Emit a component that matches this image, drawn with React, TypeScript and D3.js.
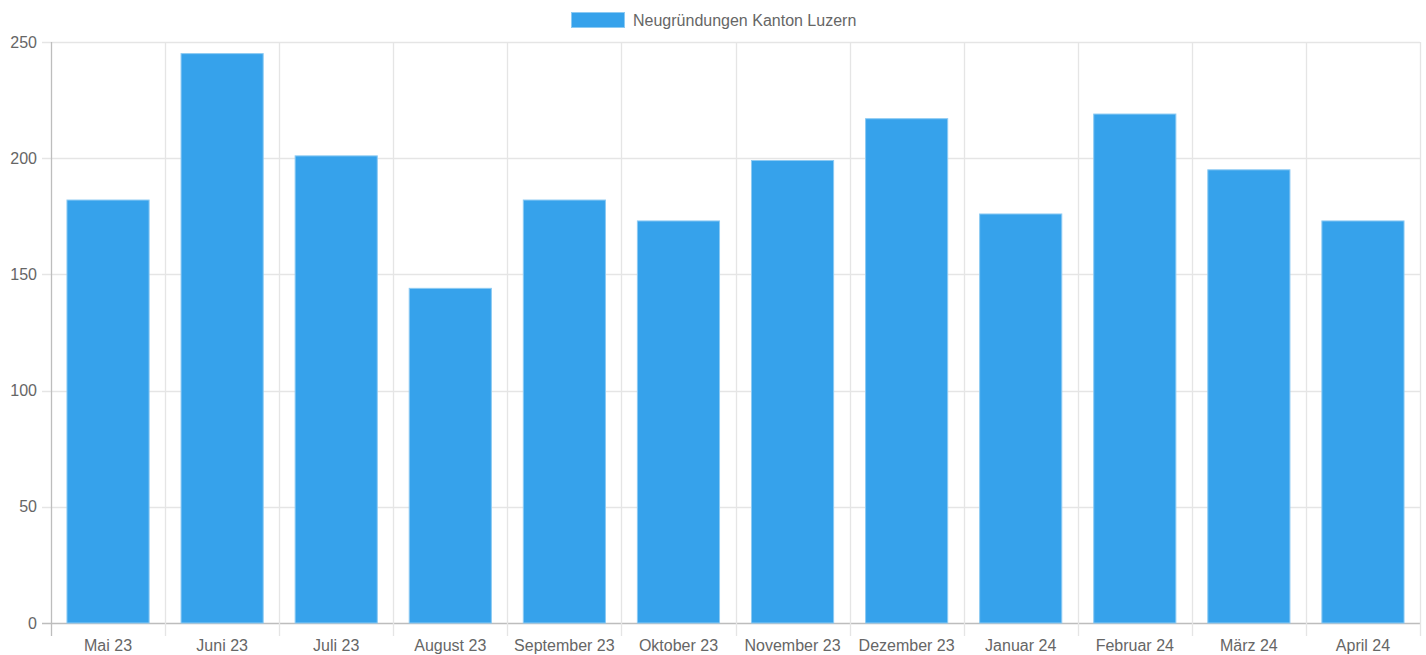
import React, { useEffect, useRef } from 'react';
import * as d3 from 'd3';

const months = ['Mai 23', 'Juni 23', 'Juli 23', 'August 23', 'September 23', 'Oktober 23',
  'November 23', 'Dezember 23', 'Januar 24', 'Februar 24', 'März 24', 'April 24'];
const counts = [182, 245, 201, 144, 182, 173, 199, 217, 176, 219, 195, 173];
const yTicks = [0, 50, 100, 150, 200, 250];
const seriesName = 'Neugründungen Kanton Luzern';

const W = 1426;
const H = 655;
const FONT = '"Helvetica Neue", Helvetica, Arial, "Liberation Sans", sans-serif';

export default function App() {
  const ref = useRef<SVGSVGElement>(null);

  useEffect(() => {
    const svg = d3.select(ref.current);
    svg.selectAll('*').remove();

    const left = 51, right = 1420, top = 42, bottom = 623;

    const x = d3.scaleBand().domain(months).range([left, right]);
    const y = d3.scaleLinear().domain([0, 250]).range([bottom, top]);

    // horizontal grid + y ticks
    const gy = svg.append('g');
    gy.selectAll('line.h')
      .data(yTicks)
      .enter()
      .append('line')
      .attr('x1', left - 9)
      .attr('x2', right)
      .attr('y1', d => Math.round(y(d)) + 0.5)
      .attr('y2', d => Math.round(y(d)) + 0.5)
      .attr('stroke', d => (d === 0 ? '#bdbdbd' : '#e5e5e5'))
      .attr('stroke-width', 1.3);
    gy.selectAll('text')
      .data(yTicks)
      .enter()
      .append('text')
      .attr('x', left - 14)
      .attr('y', d => y(d))
      .attr('dy', '0.35em')
      .attr('text-anchor', 'end')
      .attr('font-family', FONT)
      .attr('font-size', 16)
      .attr('fill', '#666')
      .text(d => d);

    // vertical grid at category edges
    const edges = months.map(m => x(m) as number).concat([right]);
    svg.append('g')
      .selectAll('line')
      .data(edges)
      .enter()
      .append('line')
      .attr('x1', d => Math.round(d) + 0.5)
      .attr('x2', d => Math.round(d) + 0.5)
      .attr('y1', top)
      .attr('y2', bottom + 13)
      .attr('stroke', (d, i) => (i === 0 ? '#bdbdbd' : '#e5e5e5'))
      .attr('stroke-width', 1.3);

    // bars
    const bw = x.bandwidth() * 0.72;
    svg.append('g')
      .selectAll('rect')
      .data(counts)
      .enter()
      .append('rect')
      .attr('x', (d, i) => (x(months[i]) as number) + (x.bandwidth() - bw) / 2)
      .attr('y', d => y(d))
      .attr('width', bw)
      .attr('height', d => bottom - y(d))
      .attr('fill', '#36a2eb')
      .attr('stroke', '#8ccaf3')
      .attr('stroke-width', 1);

    // x labels
    svg.append('g')
      .selectAll('text')
      .data(months)
      .enter()
      .append('text')
      .attr('x', d => (x(d) as number) + x.bandwidth() / 2)
      .attr('y', 651)
      .attr('text-anchor', 'middle')
      .attr('font-family', FONT)
      .attr('font-size', 16)
      .attr('fill', '#666')
      .text(d => d);

    // legend
    const lg = svg.append('g');
    lg.append('rect')
      .attr('x', 571.5)
      .attr('y', 12.5)
      .attr('width', 53)
      .attr('height', 15)
      .attr('fill', '#36a2eb')
      .attr('stroke', '#8ccaf3')
      .attr('stroke-width', 1);
    lg.append('text')
      .attr('x', 633)
      .attr('y', 20)
      .attr('dy', '0.35em')
      .attr('font-family', FONT)
      .attr('font-size', 16)
      .attr('fill', '#666')
      .text(seriesName);
  }, []);

  return (
    <svg
      ref={ref}
      width={W}
      height={H}
      style={{ position: 'absolute', left: 0, top: 0, background: '#fff' }}
    />
  );
}
